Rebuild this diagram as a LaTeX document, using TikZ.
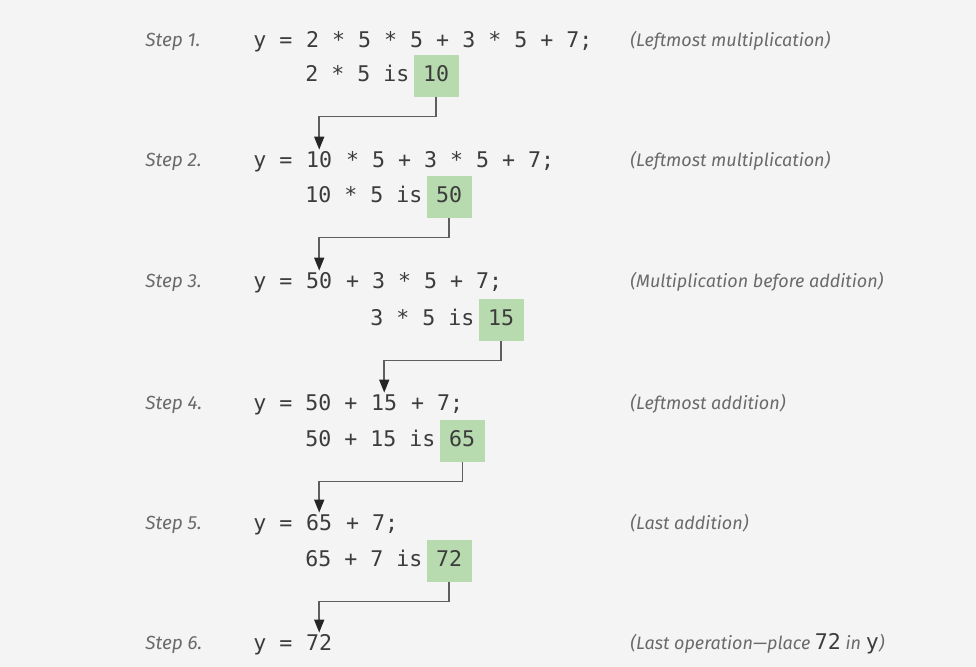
\documentclass[tikz,border=0pt]{standalone}
\usepackage{fontspec}
\setmonofont{DejaVu Sans Mono}
\newfontfamily\notefont{Fira Sans}
\usetikzlibrary{positioning, arrows.meta}

\definecolor{bg}{HTML}{F4F4F4}
\definecolor{codegray}{HTML}{3C3C3C}
\definecolor{stepgray}{HTML}{6A6A6A}
\definecolor{linegray}{HTML}{5E5E5E}
\definecolor{boxgreen}{HTML}{B7DBAE}

\begin{document}
\begin{tikzpicture}[
    x=0.5pt, y=-0.5pt,
    steplabel/.style={anchor=west, inner sep=0, text=stepgray, font=\notefont\itshape\fontsize{9.5}{11}\selectfont, text height=6.5pt, text depth=2pt},
    note/.style={steplabel, font=\notefont\itshape\fontsize{9}{11}\selectfont},
    code/.style={inner sep=0, text=codegray, font=\ttfamily\fontsize{10.8}{12}\selectfont, text height=8pt, text depth=2pt},
    result/.style={code, fill=boxgreen, inner xsep=4.75pt, inner ysep=5.5pt},
    link/.style={-{Triangle[width=5pt, length=6.5pt, color=black!85]}, draw=linegray, line width=0.75pt, shorten >=1pt}
]
    % background
    \fill[bg] (0,0) rectangle (976,667);

    % Step labels
    \foreach \n/\y in {1/42, 2/162, 3/283, 4/405, 5/525, 6/645} {
        \node[steplabel] (s\n) at (145,\y) {Step \n.};
    }

    % Step 1
    \node[code, anchor=west] (y1) at (253,42) {y =};
    \node[code, right=6.5pt of y1] (e1) {2 * 5 * 5 + 3 * 5 + 7;};
    \node[code, anchor=west] (p1) at (305,76) {2 * 5 is};
    \node[result, right=1.75pt of p1] (r1) {10};
    \node[note] (c1) at (630,42) {(Leftmost multiplication)};

    % Step 2
    \node[code, anchor=west] (y2) at (253,162) {y =};
    \node[code, right=6.5pt of y2] (v2) {10};
    \node[code, right=6.5pt of v2] (e2) {* 5 + 3 * 5 + 7;};
    \node[code, anchor=west] (p2) at (305,197) {10 * 5 is};
    \node[result, right=1.75pt of p2] (r2) {50};
    \node[note] (c2) at (630,162) {(Leftmost multiplication)};

    % Step 3
    \node[code, anchor=west] (y3) at (253,283) {y =};
    \node[code, right=6.5pt of y3] (v3) {50};
    \node[code, right=6.5pt of v3] (e3) {+ 3 * 5 + 7;};
    \node[code, anchor=west] (p3) at (370,320) {3 * 5 is};
    \node[result, right=1.75pt of p3] (r3) {15};
    \node[note] (c3) at (630,283) {(Multiplication before addition)};

    % Step 4
    \node[code, anchor=west] (y4) at (253,405) {y = 50 +};
    \node[code, right=6.5pt of y4] (v4) {15};
    \node[code, right=6.5pt of v4] (e4) {+ 7;};
    \node[code, anchor=west] (p4) at (305,441) {50 + 15 is};
    \node[result, right=1.75pt of p4] (r4) {65};
    \node[note] (c4) at (630,405) {(Leftmost addition)};

    % Step 5
    \node[code, anchor=west] (y5) at (253,525) {y =};
    \node[code, right=6.5pt of y5] (v5) {65};
    \node[code, right=6.5pt of v5] (e5) {+ 7;};
    \node[code, anchor=west] (p5) at (305,561) {65 + 7 is};
    \node[result, right=1.75pt of p5] (r5) {72};
    \node[note] (c5) at (630,525) {(Last addition)};

    % Step 6
    \node[code, anchor=west] (y6) at (253,645) {y =};
    \node[code, right=6.5pt of y6] (v6) {72};
    \node[note] (c6) at (630,645) {(Last operation\textemdash place {\upshape\ttfamily\fontsize{10.8}{12}\selectfont\color{codegray}72} in {\upshape\ttfamily\fontsize{10.8}{12}\selectfont\color{codegray}y})};

    % Results carried down
    \draw[link] (r1.south) -- ++(0,-9.5pt) -| (v2.north);
    \draw[link] (r2.south) -- ++(0,-9.5pt) -| (v3.north);
    \draw[link] (r3.south) -- ++(0,-9.5pt) -| (v4.north);
    \draw[link] (r4.south) -- ++(0,-9.5pt) -| (v5.north);
    \draw[link] (r5.south) -- ++(0,-9.5pt) -| (v6.north);

\end{tikzpicture}
\end{document}
